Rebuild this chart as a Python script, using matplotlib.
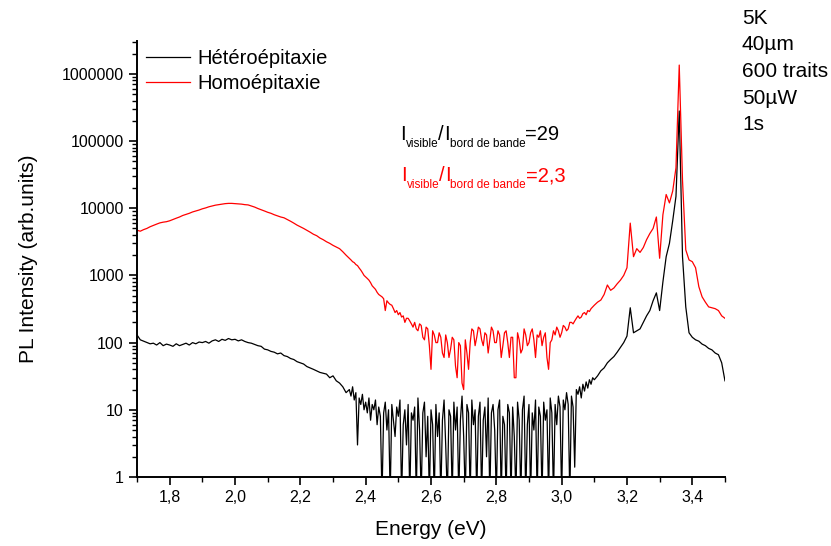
import numpy as np
import matplotlib
matplotlib.use('Agg')
import matplotlib.pyplot as plt
from matplotlib.ticker import FixedLocator, FuncFormatter, LogLocator

plt.rcParams['font.family'] = ['Liberation Sans', 'DejaVu Sans']

# energy grid (eV): 0.01 eV steps on the flanks, 0.005 eV in the noisy middle
e_left = np.round(np.arange(1.70, 2.345, 0.01), 3)
e_mid = np.round(np.arange(2.35, 3.0975, 0.005), 3)
e_right = np.round(np.arange(3.10, 3.5001, 0.01), 3)
energy = np.concatenate([e_left, e_mid, e_right])

# PL intensity (arb. units)
hetero_left = [
    130, 110, 105, 100, 96, 98, 92, 100, 90, 95,            # 1.70-1.79
    92, 88, 96, 90, 94, 98, 92, 100, 96, 102,               # 1.80-1.89
    100, 104, 98, 106, 110, 104, 112, 108, 115, 110,        # 1.90-1.99
    112, 106, 110, 104, 100, 98, 94, 90, 88, 80,            # 2.00-2.09
    78, 74, 72, 68, 70, 64, 62, 58, 56, 52,                 # 2.10-2.19
    50, 48, 44, 42, 40, 38, 36, 35, 34, 30,                 # 2.20-2.29
    32, 27, 25, 22, 18,                                     # 2.30-2.34
]
hetero_mid = [
    20, 16, 22, 14, 18, 3, 15, 12, 17, 10,                  # 2.35-2.395
    13, 9, 15, 7, 12, 10, 14, 6, 11, 8,                     # 2.40
    0.5, 9, 13, 5, 10, 0.5, 12, 7, 4, 11,                   # 2.45
    8, 14, 0.5, 6, 10, 3, 12, 0.5, 9, 7,                    # 2.50
    11, 0.5, 15, 5, 0.5, 9, 13, 2, 8, 0.5,                  # 2.55
    10, 6, 0.5, 12, 4, 9, 0.5, 7, 14, 3,                    # 2.60
    0.5, 10, 8, 0.5, 13, 5, 11, 0.5, 7, 16,                 # 2.65
    4, 0.5, 12, 9, 0.5, 14, 6, 10, 0.5, 8,                  # 2.70
    13, 0.5, 7, 11, 2, 15, 0.5, 9, 12, 5,                   # 2.75
    0.5, 10, 14, 0.5, 8, 6, 0.5, 12, 9, 0.5,                # 2.80
    11, 4, 0.5, 13, 7, 0.5, 10, 16, 0.5, 6,                 # 2.85
    12, 0.5, 9, 5, 14, 0.5, 11, 8, 0.5, 13,                 # 2.90
    7, 10, 0.5, 15, 9, 0.5, 12, 6, 16, 11,                  # 2.95
    0.5, 14, 10, 18, 12, 0.5, 16, 11, 1.4, 20,              # 3.00
    17, 22, 15, 24, 19, 26, 21, 28, 24, 30,                 # 3.05
]
hetero_right = [
    28, 32, 38, 42, 50, 56, 62, 72, 85, 100,                # 3.10-3.19
    125, 330, 140, 150, 160, 200, 250, 300, 420, 550,       # 3.20-3.29
    300, 800, 1900, 3000, 6500, 15000, 280000, 1900, 340, 140,  # 3.30-3.39
    120, 110, 105, 95, 90, 82, 78, 70, 66, 50,              # 3.40-3.49
    27,                                                     # 3.50
]

homo_left = [
    4700, 4550, 4800, 5000, 5300, 5550, 5800, 6050, 6200, 6300,        # 1.70-1.79
    6500, 6800, 7100, 7400, 7800, 8100, 8400, 8800, 9100, 9400,        # 1.80-1.89
    9800, 10100, 10500, 10800, 11100, 11300, 11500, 11700, 11800, 11800,  # 1.90-1.99
    11700, 11600, 11500, 11300, 11200, 10800, 10400, 9900, 9500, 9100,  # 2.00-2.09
    8700, 8400, 8000, 7700, 7400, 7200, 6800, 6400, 6000, 5600,        # 2.10-2.19
    5300, 5000, 4700, 4400, 4100, 3900, 3600, 3400, 3170, 3000,        # 2.20-2.29
    2800, 2650, 2500, 2250, 2000,                                      # 2.30-2.34
]
homo_mid = [
    1800, 1700, 1600, 1550, 1450, 1400, 1290, 1200, 1100, 1000,        # 2.35-2.395
    950, 900, 850, 780, 700, 660, 620, 560, 520, 500,                  # 2.40
    480, 450, 300, 420, 390, 370, 360, 320, 280, 300,                  # 2.45
    260, 280, 240, 250, 200, 230, 230, 210, 190, 170,                  # 2.50
    200, 160, 150, 190, 180, 120, 110, 170, 160, 90,                   # 2.55
    40, 150, 130, 100, 100, 140, 120, 70, 60, 130,                     # 2.60
    100, 60, 80, 120, 110, 45, 30, 100, 90, 25,                        # 2.65
    20, 110, 70, 40, 100, 160, 150, 90, 120, 170,                      # 2.70
    160, 110, 90, 140, 130, 70, 110, 170, 150, 100,                    # 2.75
    100, 150, 130, 60, 90, 140, 150, 100, 60, 120,                     # 2.80
    120, 30, 30, 140, 110, 70, 80, 160, 130, 90,                       # 2.85
    100, 140, 160, 110, 60, 130, 120, 150, 90, 120,                    # 2.90
    140, 60, 40, 100, 110, 150, 130, 170, 150, 120,                    # 2.95
    140, 180, 170, 150, 160, 200, 200, 190, 210, 230,                  # 3.00
    250, 230, 240, 270, 280, 260, 300, 290, 320, 340,                  # 3.05
]
homo_right = [
    360, 400, 430, 520, 720, 600, 650, 750, 850, 1000,                 # 3.10-3.19
    1300, 6000, 1900, 2500, 2200, 2600, 3400, 4200, 5000, 7400,        # 3.20-3.29
    1800, 8000, 16000, 12000, 18000, 40000, 1350000, 26000, 2400, 1700,  # 3.30-3.39
    1600, 1300, 680, 480, 400, 340, 330, 320, 300, 250,                # 3.40-3.49
    230,                                                               # 3.50
]

hetero = hetero_left + hetero_mid + hetero_right
homo = homo_left + homo_mid + homo_right

series_names = ['Hétéroépitaxie', 'Homoépitaxie']
ratio_values = ['29', '2,3']
x_major = [1.8, 2.0, 2.2, 2.4, 2.6, 2.8, 3.0, 3.2, 3.4]
x_minor = [1.7, 1.9, 2.1, 2.3, 2.5, 2.7, 2.9, 3.1, 3.3, 3.5]
y_ticks = [1, 10, 100, 1000, 10000, 100000, 1000000]
conditions = ['5K', '40µm', '600 traits', '50µW', '1s']

W, H = 831, 546
fig = plt.figure(figsize=(W / 100, H / 100), dpi=100)
ax = fig.add_axes([0.1649, 0.1264, 0.7075, 0.7985])

ax.plot(energy, hetero, color='black', lw=0.9, label=series_names[0])
ax.plot(energy, homo, color='#ff0000', lw=0.9, label=series_names[1])

ax.set_yscale('log')
ax.set_xlim(1.7, 3.5)
ax.set_ylim(1, 3.08e6)

ax.xaxis.set_major_locator(FixedLocator(x_major))
ax.xaxis.set_minor_locator(FixedLocator(x_minor))
ax.xaxis.set_major_formatter(FuncFormatter(lambda v, p: f'{v:.1f}'.replace('.', ',')))
ax.yaxis.set_major_locator(FixedLocator(y_ticks))
ax.yaxis.set_minor_locator(LogLocator(base=10, subs=np.arange(2, 10), numticks=20))
ax.yaxis.set_major_formatter(FuncFormatter(lambda v, p: f'{int(round(v))}'))
ax.yaxis.set_minor_formatter(FuncFormatter(lambda v, p: ''))

ax.tick_params(which='major', direction='out', length=6, width=1.2, labelsize=11.5)
ax.tick_params(which='minor', direction='out', length=3.5, width=1.0)
ax.spines['top'].set_visible(False)
ax.spines['right'].set_visible(False)
ax.spines['left'].set_linewidth(1.4)
ax.spines['bottom'].set_linewidth(1.4)

ax.set_xlabel('Energy (eV)', fontsize=15, labelpad=11)
ax.set_ylabel('PL Intensity (arb.units)', fontsize=15, labelpad=17)

ax.legend(loc='upper left', bbox_to_anchor=(-0.005, 1.01), frameon=False,
          fontsize=14.5, handlelength=2.2, handletextpad=0.35, labelspacing=0.3,
          borderaxespad=0.2)

# I_visible / I_bord de bande, pieces laid out one after the other (pixels)
renderer = fig.canvas.get_renderer()


def ratio_label(x0, baseline, value, color):
    x = x0
    pieces = [('I', 14.5, 0), ('visible', 8.5, -7), ('/', 14.5, 0),
              ('I', 14.5, 0), ('bord de bande', 8.5, -7), ('=' + value, 14.5, 0)]
    for s, size, dy in pieces:
        t = fig.text(x / W, (H - baseline + dy) / H, s, fontsize=size,
                     color=color, va='baseline')
        x += t.get_window_extent(renderer).width


ratio_label(400, 140, ratio_values[0], 'black')
ratio_label(401, 181, ratio_values[1], '#ff0000')

fig.text(742 / W, 1 - 9 / H, '\n'.join(conditions), fontsize=15, va='top',
         linespacing=1.5)

fig.savefig('out.png', dpi=100)
